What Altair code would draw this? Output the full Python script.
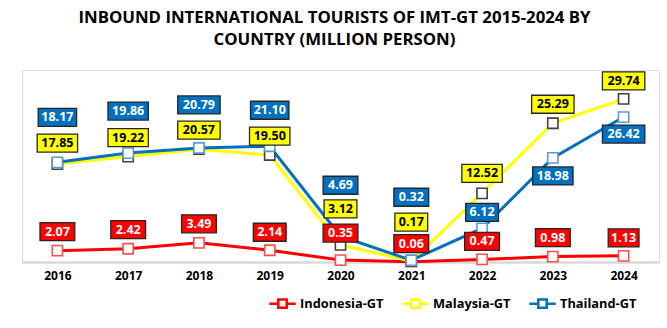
import altair as alt
import pandas as pd

years = ["2016", "2017", "2018", "2019", "2020", "2021", "2022", "2023", "2024"]
series = ["Indonesia-GT", "Malaysia-GT", "Thailand-GT"]
indonesia = [2.07, 2.42, 3.49, 2.14, 0.35, 0.06, 0.47, 0.98, 1.13]
malaysia = [17.85, 19.22, 20.57, 19.50, 3.12, 0.17, 12.52, 25.29, 29.74]
thailand = [18.17, 19.86, 20.79, 21.10, 4.69, 0.32, 6.12, 18.98, 26.42]

# styles
line_colors = ["#ff0000", "#ffff00", "#0070c0"]
marker_strokes = ["#ff4d4d", "#404040", "#5b9bd5"]
box_fills = ["#ff0000", "#ffff00", "#0070c0"]
text_colors = ["#ffffff", "#000000", "#ffffff"]
# label vertical offsets in pixels (relative to the point; negative = above)
label_dy = [
    [-19, -19, -19, -18, -27, -18, -18, -19, -18],
    [-21, -19, -19, -19, -36, -39, -20, -19, -18],
    [-45, -42, -43, -36, -51, -63, -16, 18, 17],
]
FONT = "Open Sans"
Y_MAX = 35
PLOT_H = 192
PX_PER_UNIT = PLOT_H / Y_MAX

values = [indonesia, malaysia, thailand]
char_w = {"1": 5.5, ".": 3.4}
rows = []
for si, name in enumerate(series):
    for yi, yr in enumerate(years):
        v = values[si][yi]
        txt = f"{v:.2f}"
        w = sum(char_w.get(c, 7.5) for c in txt) + 9
        h = 18
        rows.append(dict(
            series=name, order=si, year=yr, value=v, label=txt,
            mstroke=marker_strokes[si], bfill=box_fills[si], tcolor=text_colors[si],
            dy=label_dy[si][yi],
            box=f"M{-w/2:.1f},{-h/2}H{w/2:.1f}V{h/2}H{-w/2:.1f}Z",
        ))
df = pd.DataFrame(rows)

x = alt.X("year:N", scale=alt.Scale(type="point", padding=0.5),
          axis=alt.Axis(title=None, labelAngle=0, ticks=False, domainColor="#d9d9d9",
                        domainWidth=2.5, labelFont=FONT, labelFontWeight="bold",
                        labelFontSize=12, labelColor="#000000", labelPadding=8))
yscale = alt.Scale(domain=[0, Y_MAX], nice=False, zero=True)
y = alt.Y("value:Q", scale=yscale, axis=None)
ylab = alt.Y("label_y:Q", scale=yscale, axis=None)

base = alt.Chart(df)

lines = base.mark_line(strokeWidth=3).encode(
    x=x, y=y,
    color=alt.Color("series:N", scale=alt.Scale(domain=series, range=line_colors),
                    legend=alt.Legend(
                        title=None, orient="none", direction="horizontal",
                        legendX=246, legendY=219,
                        symbolType="M-1,0H-0.32M0.32,0H1M-0.32,-0.32H0.32V0.32H-0.32Z",
                        symbolSize=700, symbolStrokeWidth=2.5, symbolFillColor="#ffffff",
                        labelFont=FONT, labelFontWeight="bold", labelFontSize=12.8,
                        labelColor="#000000", columnPadding=13, labelOffset=3)),
    order="order:Q",
)

points = base.mark_point(shape="square", filled=True, fill="#ffffff", size=105,
                         strokeWidth=1.6, opacity=1).encode(
    x=x, y=y,
    stroke=alt.Stroke("mstroke:N", scale=None),
    order="order:Q",
)

labels_base = base.transform_calculate(
    label_y=f"datum.value - datum.dy / {PX_PER_UNIT}"
)

boxes = labels_base.mark_point(filled=True, size=4, stroke="#262626", strokeWidth=1.3,
                               opacity=1).encode(
    x=x, y=ylab,
    shape=alt.Shape("box:N", scale=None),
    fill=alt.Fill("bfill:N", scale=None),
    order="order:Q",
)

texts = labels_base.mark_text(font=FONT, fontWeight="bold", fontSize=12.5,
                              baseline="middle", align="center").encode(
    x=x, y=ylab,
    text="label:N",
    color=alt.Color("tcolor:N", scale=None),
)

chart = alt.layer(lines, points, boxes, texts).properties(
    width=637, height=PLOT_H,
    autosize=alt.AutoSizeParams(type="none"),
    padding={"left": 22, "top": 70, "right": 8, "bottom": 66},
    title=alt.TitleParams(
        text=["INBOUND INTERNATIONAL TOURISTS OF IMT-GT 2015-2024 BY",
              "COUNTRY (MILLION PERSON)"],
        font=FONT, fontWeight="bold", fontSize=16.8, color="#000000",
        anchor="middle", dx=-6, offset=20, lineHeight=22),
).configure_view(stroke=None).configure(background="#ffffff")

chart.save("out.html", embed_options={"renderer": "svg", "actions": False})
